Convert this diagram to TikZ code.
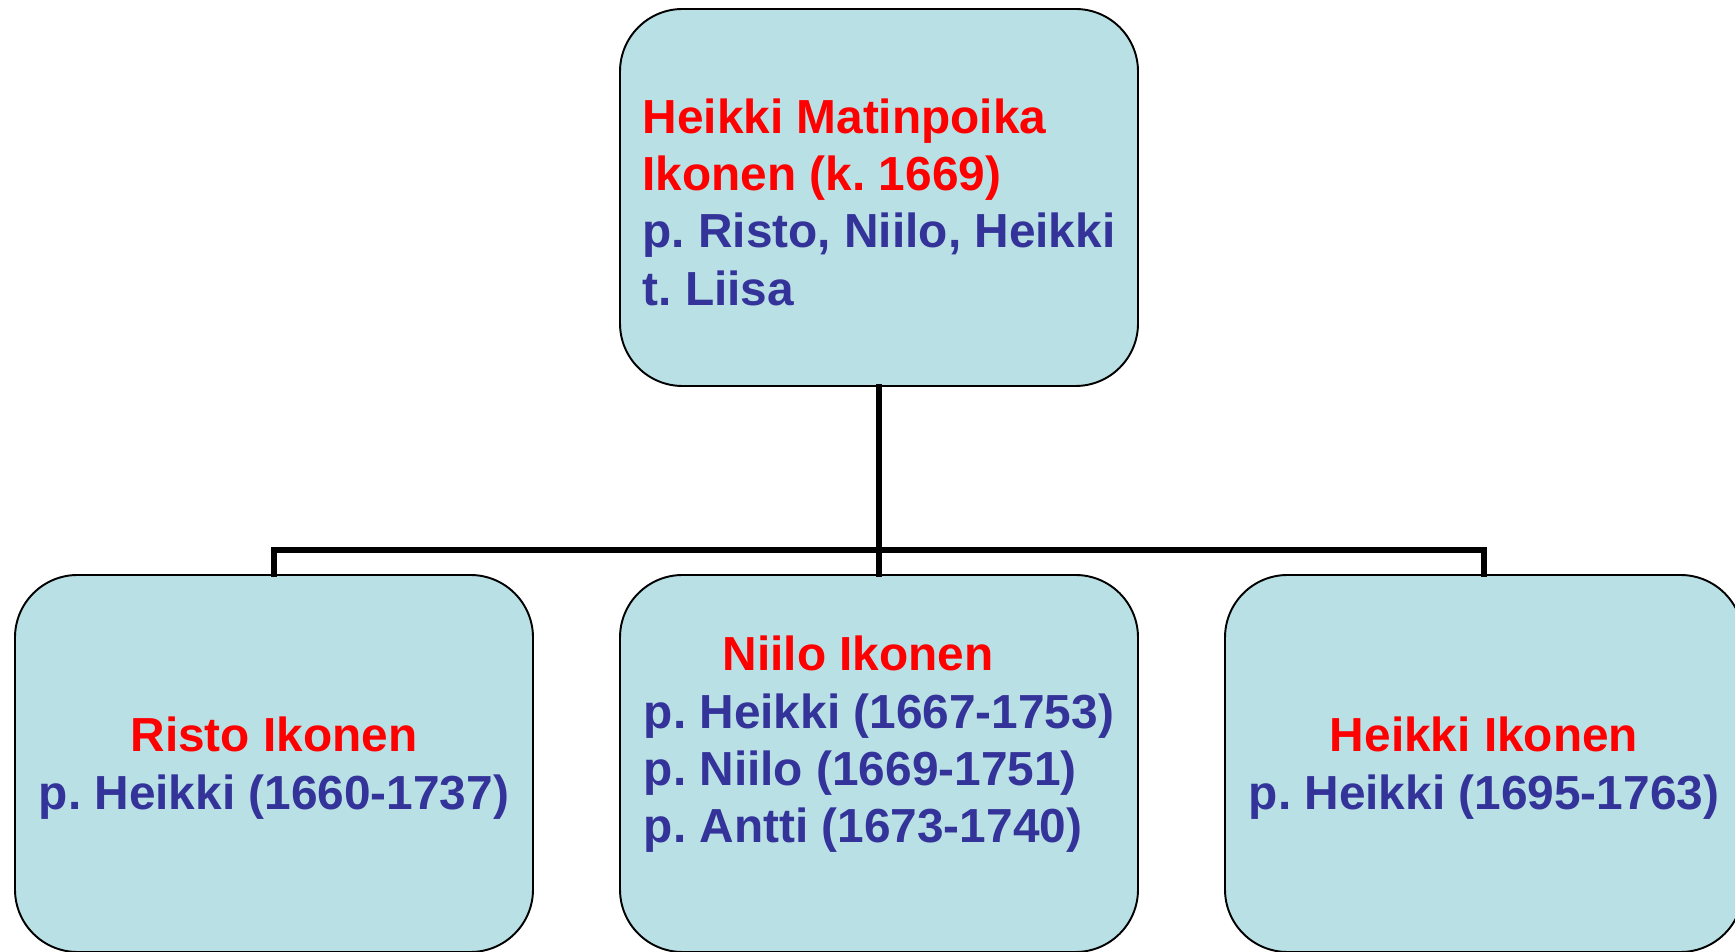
\documentclass[tikz,border=0pt]{standalone}
\usepackage{fontspec}
\setmainfont{Liberation Sans}
\usepackage{tikz}
\usetikzlibrary{positioning}
\definecolor{boxfill}{RGB}{185,224,228}
\definecolor{namered}{RGB}{255,0,0}
\definecolor{kidblue}{RGB}{51,51,153}
\newcommand{\nm}[1]{\rule{0pt}{25pt}\textcolor{namered}{#1}}
\frenchspacing

\begin{document}
\begin{tikzpicture}[node distance=12.1cm,on grid,
		person/.style={rectangle,rounded corners=1.25cm,draw=black,line width=1.1pt,fill=boxfill,
			minimum width=10.36cm,minimum height=7.54cm,align=left,text=kidblue,
			font=\fontsize{27.2}{32.7}\selectfont\bfseries},
		link/.style={line width=3.4pt,line cap=rect}]
		\clip (0,0) rectangle (34.7,19.02);
		\node[person]  (heikki)  at (17.58,15.07)
			{\nm{Heikki Matinpoika}\\ \textcolor{namered}{Ikonen (k. 1669)}\\ p. Risto, Niilo, Heikki\\ t. Liisa};
		\node[person]  (niilo)   [below=11.32cm of heikki]
			{\hspace*{1.65em}\nm{Niilo Ikonen}\\ p. Heikki (1667-1753)\\ p. Niilo (1669-1751)\\ p. Antti (1673-1740)\\ ~};
		\node[person,align=center]  (risto)   [left=of niilo]
			{\nm{Risto Ikonen}\\ p. Heikki (1660-1737)};
		\node[person,align=center]  (heikki2) [right=of niilo]
			{\nm{Heikki Ikonen}\\ p. Heikki (1695-1763)};
		
		\coordinate (split) at (17.58,8.02);
		
		\draw[link] (heikki.south) -- (split) -- (niilo.north);
		\draw[link] (risto.north) |- (split) -| (heikki2.north);
		\end{tikzpicture}
\end{document}
